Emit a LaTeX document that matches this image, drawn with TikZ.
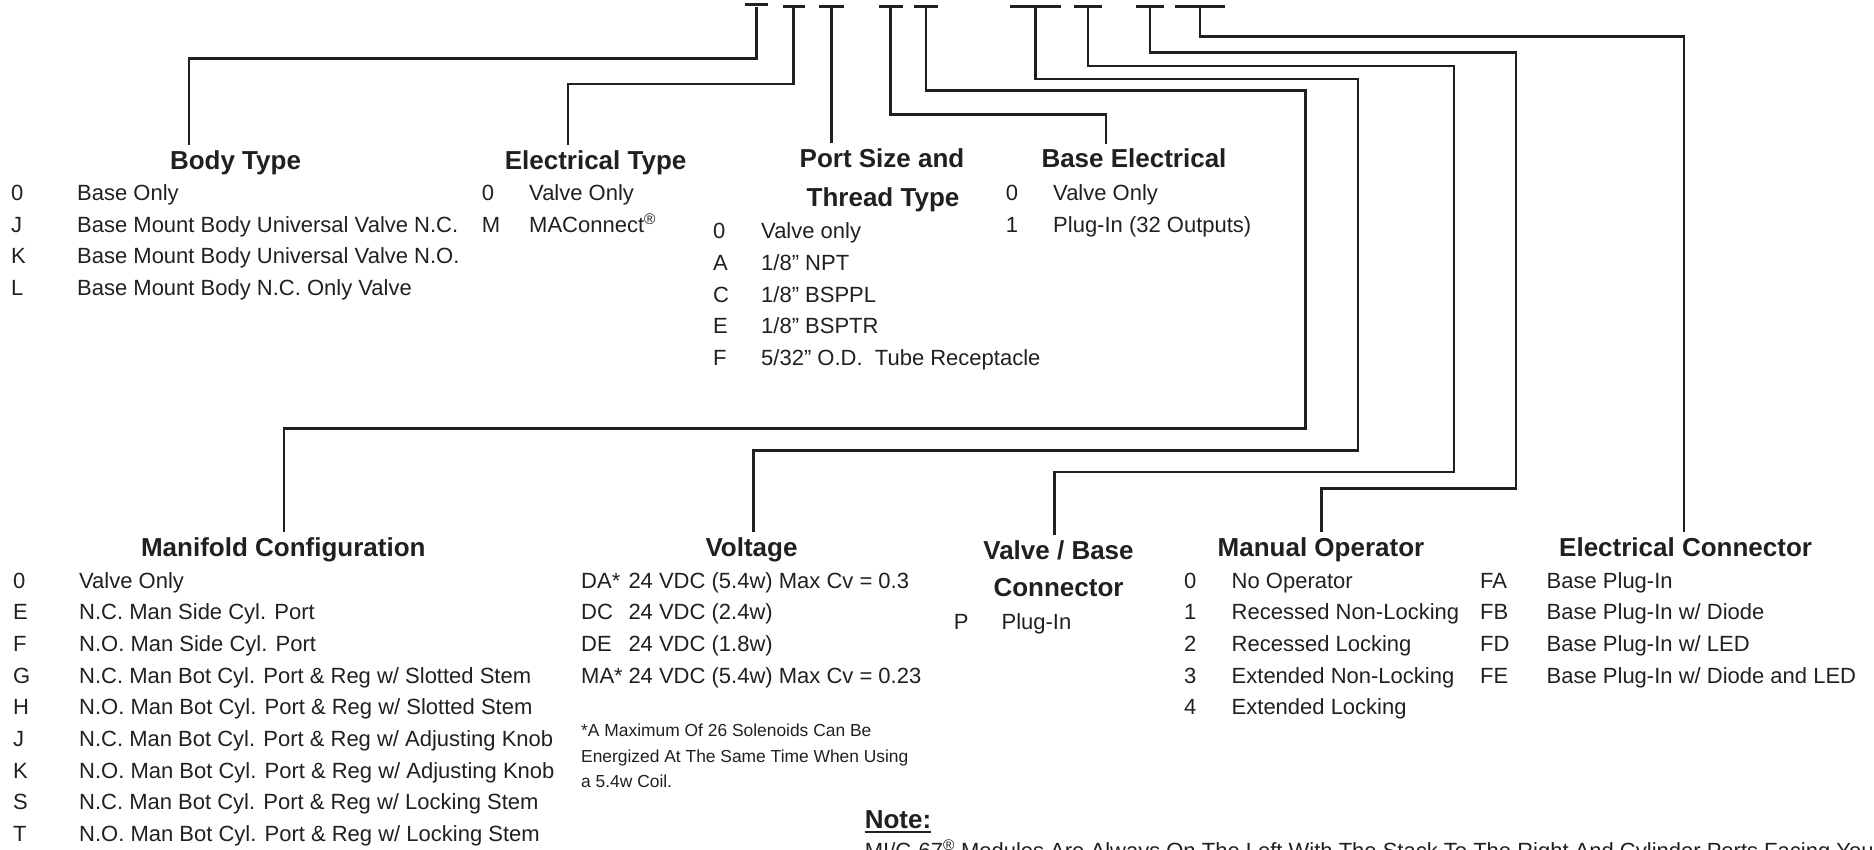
\documentclass[tikz,border=0pt]{standalone}
\usepackage{fontspec}
\setmainfont{Liberation Sans}
\usepackage{tikz}
\definecolor{ink}{RGB}{35,31,32}
\newcommand{\reg}{\textsuperscript{\textregistered}}

\begin{document}
\begin{tikzpicture}[x=1pt,y=-1pt,
  conn/.style={draw=ink,line width=2.6pt},
  tbar/.style={fill=ink,inner sep=0pt,minimum height=3pt},
  head/.style={font=\fontsize{26}{30}\selectfont\bfseries,text=ink,anchor=base,inner xsep=0pt,inner ysep=5pt},
  item/.style={font=\fontsize{22}{26}\selectfont,text=ink,anchor=base west,inner sep=0pt},
  small/.style={font=\fontsize{17.4}{21}\selectfont,text=ink,anchor=base west,inner sep=0pt}]
\useasboundingbox (0,0) rectangle (1874,850);

% code positions along the top
\node[tbar,minimum width=23pt] (tbody) at (756.5,5) {};
\node[tbar,minimum width=22pt] (telec) at (793.5,6.7) {};
\node[tbar,minimum width=25pt] (tport) at (831.5,6.7) {};
\node[tbar,minimum width=24pt] (tbase) at (890.5,6.7) {};
\node[tbar,minimum width=24pt] (tman) at (926,6.7) {};
\node[tbar,minimum width=51pt] (tvolt) at (1035.5,6.7) {};
\node[tbar,minimum width=28pt] (tvb) at (1088,6.7) {};
\node[tbar,minimum width=28pt] (tmo) at (1150,6.7) {};
\node[tbar,minimum width=50pt] (tec) at (1200,6.7) {};

% headings
\node[head] (hbody) at (235.5,169.3) {Body Type};
\node[head] (helec) at (595.6,169.3) {Electrical Type};
\node[head] (hport) at (882,167.3) {Port Size and};
\node[head] (hport2) at (883,206.3) {Thread Type};
\node[head] (hbase) at (1134,167.6) {Base Electrical};
\node[head] (hman) at (283.3,556) {Manifold Configuration};
\node[head] (hvolt) at (751.5,556) {Voltage};
\node[head] (hvb) at (1058.5,559.3) {Valve / Base};
\node[head] (hvb2) at (1058.5,596) {Connector};
\node[head] (hmo) at (1321,556) {Manual Operator};
\node[head] (hec) at (1685.6,556) {Electrical Connector};

% bends of the leaders
\coordinate (kbody) at (189,58.3);
\coordinate (kelec) at (568,84);
\coordinate (kbase) at (1106,114.5);
\coordinate (kman) at (1305.7,90.7);
\coordinate (kman2) at (284,428.3);
\coordinate (kvolt) at (1358,79);
\coordinate (kvolt2) at (753.5,450.7);
\coordinate (kvb) at (1454,66);
\coordinate (kvb2) at (1054.5,472);
\coordinate (kmo) at (1516,52.7);
\coordinate (kmo2) at (1321.6,488.3);
\coordinate (kec) at (1684,36.7);

\draw[conn] (tbody) |- (kbody) -- (kbody |- hbody.north);
\draw[conn] (telec) |- (kelec) -- (kelec |- helec.north);
\draw[conn] (tport) -- (tport |- hport.north);
\draw[conn] (tbase) |- (kbase) -- (kbase |- hbase.north);
\draw[conn] (tman) |- (kman) |- (kman2) -- (kman2 |- hman.north);
\draw[conn] (tvolt) |- (kvolt) |- (kvolt2) -- (kvolt2 |- hvolt.north);
\draw[conn] (tvb) |- (kvb) |- (kvb2) -- (kvb2 |- hvb.north);
\draw[conn] (tmo) |- (kmo) |- (kmo2) -- (kmo2 |- hmo.north);
\draw[conn] (tec) |- (kec) -- (kec |- hec.north);

% option lists
\foreach \c/\t [count=\i from 0] in {0/Base Only, J/Base Mount Body Universal Valve N.C., K/Base Mount Body Universal Valve N.O., L/Base Mount Body N.C. Only Valve}
{
  \node[item] (bodyc\i) at (11,{200.5+31.6*\i}) {\c};
  \node[item] (body\i) at (77,{200.5+31.6*\i}) {\t};
}
\foreach \c/\t [count=\i from 0] in {0/Valve Only, M/MAConnect\reg}
{
  \node[item] (elecc\i) at (481.6,{200.8+31.6*\i}) {\c};
  \node[item] (elec\i) at (529,{200.8+31.6*\i}) {\t};
}
\foreach \c/\t [count=\i from 0] in {0/Valve only, A/{1/8” NPT}, C/{1/8” BSPPL}, E/{1/8” BSPTR}, F/{5/32” O.D.\ \ Tube Receptacle}}
{
  \node[item] (portc\i) at (713,{238.5+31.8*\i}) {\c};
  \node[item] (port\i) at (761,{238.5+31.8*\i}) {\t};
}
\foreach \c/\t [count=\i from 0] in {0/Valve Only, 1/Plug-In (32 Outputs)}
{
  \node[item] (basec\i) at (1005.6,{200.8+31.6*\i}) {\c};
  \node[item] (base\i) at (1053,{200.8+31.6*\i}) {\t};
}
\foreach \c/\t [count=\i from 0] in {0/Valve Only, E/N.C. Man Side Cyl. Port, F/N.O. Man Side Cyl. Port,
  G/{N.C. Man Bot Cyl. Port \& Reg w/ Slotted Stem}, H/{N.O. Man Bot Cyl. Port \& Reg w/ Slotted Stem},
  J/{N.C. Man Bot Cyl. Port \& Reg w/ Adjusting Knob}, K/{N.O. Man Bot Cyl. Port \& Reg w/ Adjusting Knob},
  S/{N.C. Man Bot Cyl. Port \& Reg w/ Locking Stem}, T/{N.O. Man Bot Cyl. Port \& Reg w/ Locking Stem}}
{
  \node[item] (manc\i) at (13,{588+31.67*\i}) {\c};
  \node[item] (man\i) at (79,{588+31.67*\i}) {\t};
}
\foreach \c/\t [count=\i from 0] in {DA*/24 VDC (5.4w) Max Cv = 0.3, DC/24 VDC (2.4w), DE/24 VDC (1.8w), MA*/24 VDC (5.4w) Max Cv = 0.23}
{
  \node[item] (voltc\i) at (581,{588+31.67*\i}) {\c};
  \node[item] (volt\i) at (628.3,{588+31.67*\i}) {\t};
}
\node[small] (foot1) at (581,736.2) {*A Maximum Of 26 Solenoids Can Be};
\node[small] (foot2) at (581,762) {Energized At The Same Time When Using};
\node[small] (foot3) at (581,787.8) {a 5.4w Coil.};

\node[item] (vbc0) at (953.7,629.7) {P};
\node[item] (vb0) at (1001.4,629.7) {Plug-In};

\foreach \c/\t [count=\i from 0] in {0/No Operator, 1/Recessed Non-Locking, 2/Recessed Locking, 3/Extended Non-Locking, 4/Extended Locking}
{
  \node[item] (moc\i) at (1183.8,{588+31.67*\i}) {\c};
  \node[item] (mo\i) at (1231.5,{588+31.67*\i}) {\t};
}
\foreach \c/\t [count=\i from 0] in {FA/Base Plug-In, FB/{Base Plug-In w/ Diode}, FD/{Base Plug-In w/ LED}, FE/{Base Plug-In w/ Diode and LED}}
{
  \node[item] (ecc\i) at (1480,{588+31.67*\i}) {\c};
  \node[item] (ec\i) at (1546.5,{588+31.67*\i}) {\t};
}

% note at the foot
\node[head,anchor=base west,inner sep=0pt] (note) at (864.6,828) {Note:};
\draw[ink,line width=2pt] ([yshift=-4pt]note.south west) -- ([yshift=-4pt]note.south east);
\node[item] (notetxt) at (864.6,858) {MI/C-67\reg{} Modules Are Always On The Left With The Stack To The Right And Cylinder Ports Facing You};
\end{tikzpicture}
\end{document}
